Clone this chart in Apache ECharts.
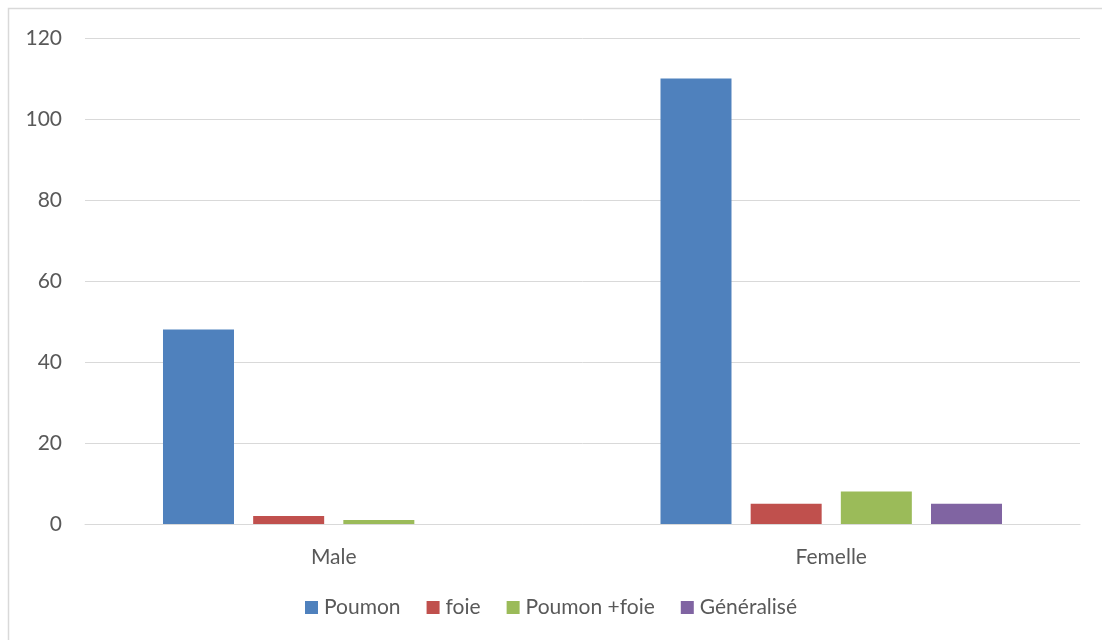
<!DOCTYPE html>
<html>
<head>
<meta charset="utf-8">
<script src="https://cdn.jsdelivr.net/npm/echarts@6/dist/echarts.min.js"></script>
<style>
  html, body { margin: 0; padding: 0; background: #fff; }
  #chart { width: 1102px; height: 640px; }
</style>
</head>
<body>
<div id="chart"></div>
<script>
const categories = ['Male', 'Femelle'];
const poumon = [48, 110];
const foie = [2, 5];
const poumonFoie = [1, 8];
const generalise = [0, 5];
const yTicks = [0, 20, 40, 60, 80, 100, 120];

const seriesNames = ['Poumon', 'foie', 'Poumon +foie', 'Généralisé'];
const seriesData = [poumon, foie, poumonFoie, generalise];
const colors = ['#4f81bd', '#c0504d', '#9bbb59', '#8064a2'];

const FONT = 'Lato, "Open Sans", sans-serif';
const TEXT = '#595959';

const chart = echarts.init(document.getElementById('chart'), null, { renderer: 'canvas' });
chart.setOption({
  animation: false,
  backgroundColor: '#ffffff',
  color: colors,
  graphic: [{
    type: 'rect',
    shape: { x: 8.5, y: 8.5, width: 1200, height: 700 },
    style: { fill: 'none', stroke: '#d9d9d9', lineWidth: 1.5 },
    silent: true
  }],
  grid: { left: 85, right: 22, top: 38, bottom: 116, containLabel: false },
  legend: {
    data: seriesNames,
    bottom: 17,
    left: 'center',
    itemWidth: 13,
    itemHeight: 13,
    itemGap: 26,
    icon: 'rect',
    textStyle: { color: TEXT, fontFamily: FONT, fontSize: 21, padding: [0, 0, 0, 1] }
  },
  xAxis: {
    type: 'category',
    data: categories,
    axisLine: { lineStyle: { color: '#d9d9d9', width: 1 } },
    axisTick: { show: false },
    axisLabel: { color: TEXT, fontFamily: FONT, fontSize: 21, margin: 23 }
  },
  yAxis: {
    type: 'value',
    min: yTicks[0],
    max: yTicks[yTicks.length - 1],
    interval: yTicks[1] - yTicks[0],
    axisLine: { show: false },
    axisTick: { show: false },
    axisLabel: { color: TEXT, fontFamily: FONT, fontSize: 21, margin: 23 },
    splitLine: { lineStyle: { color: '#d9d9d9', width: 1 } }
  },
  series: seriesNames.map((name, i) => ({
    name,
    type: 'bar',
    data: seriesData[i],
    barWidth: 71,
    barGap: '27%',
    itemStyle: { color: colors[i] }
  }))
});
</script>
</body>
</html>
